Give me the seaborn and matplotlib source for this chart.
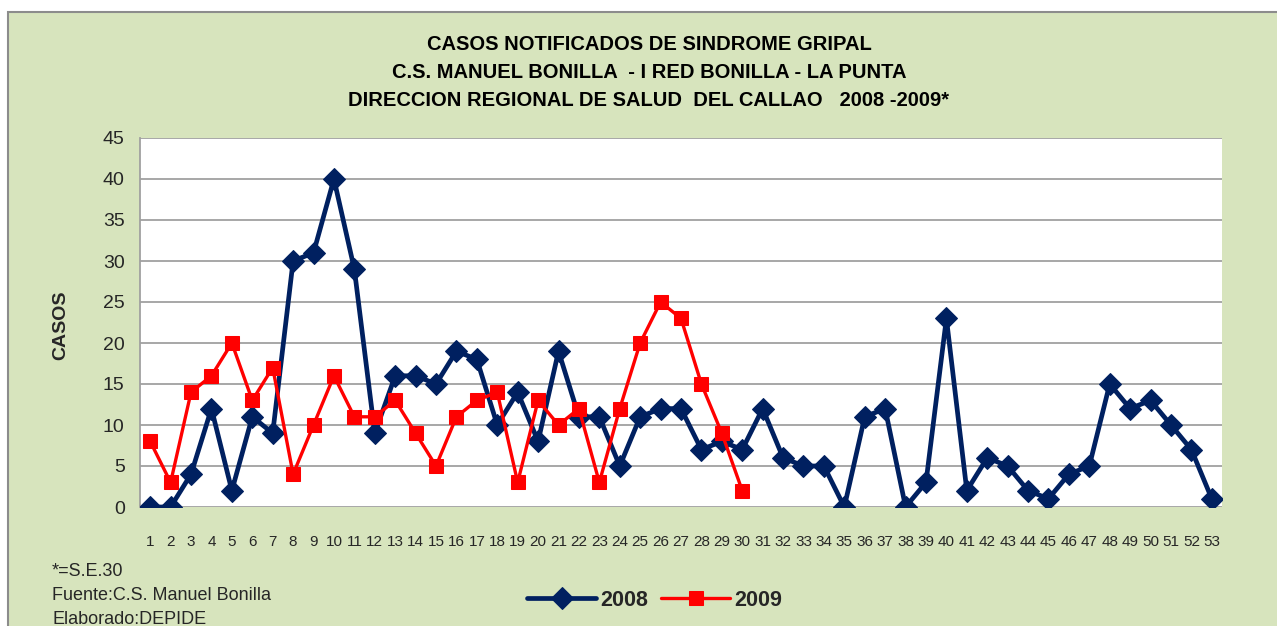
"""Casos notificados de síndrome gripal 2008-2009 — seaborn"""
import matplotlib
matplotlib.use("Agg")
import matplotlib.pyplot as plt
from matplotlib.patches import Rectangle
import pandas as pd
import seaborn as sns

sns.set_theme(style="whitegrid")
plt.rcParams["font.family"] = ["Liberation Sans", "DejaVu Sans"]

W, H = 1277, 626
NAVY, RED, GREEN_BG = "#002060", "#FF0000", "#D7E4BD"

semanas = list(range(1, 54))
casos_2008 = [0, 0, 4, 12, 2, 11, 9, 30, 31, 40, 29, 9, 16, 16, 15, 19, 18, 10, 14, 8,
              19, 11, 11, 5, 11, 12, 12, 7, 8, 7, 12, 6, 5, 5, 0, 11, 12, 0, 3, 23,
              2, 6, 5, 2, 1, 4, 5, 15, 12, 13, 10, 7, 1]
casos_2009 = [8, 3, 14, 16, 20, 13, 17, 4, 10, 16, 11, 11, 13, 9, 5, 11, 13, 14, 3, 13,
              10, 12, 3, 12, 20, 25, 23, 15, 9, 2]
titulo = ["CASOS NOTIFICADOS DE SINDROME GRIPAL",
          "C.S. MANUEL BONILLA  - I RED BONILLA - LA PUNTA",
          "DIRECCION REGIONAL DE SALUD  DEL CALLAO   2008 -2009*"]
notas = ["*=S.E.30", "Fuente:C.S. Manuel Bonilla", "Elaborado:DEPIDE"]

d08 = pd.DataFrame({"semana": semanas, "casos": casos_2008})
d09 = pd.DataFrame({"semana": semanas[:len(casos_2009)], "casos": casos_2009})

fig = plt.figure(figsize=(W / 100, H / 100), dpi=100)
fig.patch.set_facecolor("white")
fig.add_artist(Rectangle((8 / W, -0.1), 2, (H - 12) / H + 0.1, transform=fig.transFigure,
                         facecolor=GREEN_BG, edgecolor="#8C8C8C", lw=1.5, zorder=-5))

ax = fig.add_axes([140 / W, 1 - 507 / H, (1222 - 140) / W, (507 - 138) / H])
ax.set_facecolor("white")
sns.lineplot(data=d08, x="semana", y="casos", ax=ax, color=NAVY, lw=3.4, marker="D",
             markersize=11.5, markeredgecolor=NAVY, label="2008", zorder=3)
sns.lineplot(data=d09, x="semana", y="casos", ax=ax, color=RED, lw=2.4, marker="s",
             markersize=10.5, markeredgecolor=RED, label="2009", zorder=4)

ax.set_xlim(0.5, 53.5); ax.set_ylim(0, 45)
ax.set_xticks(semanas); ax.set_xticklabels([str(s) for s in semanas], fontsize=11)
ax.set_yticks(range(0, 46, 5)); ax.tick_params(axis="y", labelsize=14, length=0, pad=11)
ax.tick_params(axis="x", length=0, pad=20)
ax.grid(axis="y", color="#A0A0A0", lw=1.3); ax.grid(axis="x", visible=False)
for s in ["top", "right", "bottom"]:
    ax.spines[s].set_visible(False)
ax.spines["left"].set_color("#A0A0A0"); ax.spines["left"].set_linewidth(1.3)
ax.set_xlabel(""); ax.set_ylabel("")
ax.get_legend().remove()

for i, t in enumerate(titulo):
    fig.text(649 / W, 1 - (45 + 27.5 * i) / H, t, ha="center", va="center",
             fontsize=14.5, fontweight="bold", color="black")
fig.text(61 / W, 1 - 325 / H, "CASOS", rotation=90, ha="center", va="center",
         fontsize=14, fontweight="bold")
for i, t in enumerate(notas):
    fig.text(52 / W, 1 - (571 + 24 * i) / H, t, ha="left", va="center", fontsize=13)

h, l = ax.get_legend_handles_labels()
fig.legend(h, l, loc="center", bbox_to_anchor=(655 / W, 1 - 600 / H), ncol=2, frameon=False,
           prop={"weight": "bold", "size": 15.5}, handlelength=3.2, columnspacing=0.6,
           handletextpad=0.2)

fig.savefig("out.png", dpi=100)
